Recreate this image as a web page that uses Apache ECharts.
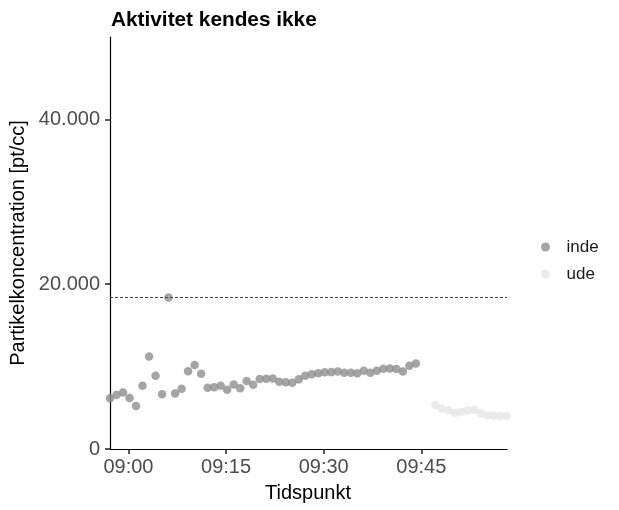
<!DOCTYPE html>
<html>
<head>
<meta charset="utf-8">
<script src="https://cdn.jsdelivr.net/npm/echarts@6/dist/echarts.min.js"></script>
<style>
html, body { margin: 0; padding: 0; background: #fff; }
#chart { width: 619px; height: 510px; }
</style>
</head>
<body>
<div id="chart"></div>
<script>
// målinger inde (tidspunkt + partikler pr. cc)
const indeTimes = [
  '08:57:10', '08:58:10', '08:59:10', '09:00:10', '09:01:10', '09:02:10', '09:03:10', '09:04:10',
  '09:05:10', '09:06:10', '09:07:10', '09:08:10', '09:09:10', '09:10:10', '09:11:10', '09:12:10',
  '09:13:10', '09:14:10', '09:15:10', '09:16:10', '09:17:10', '09:18:10', '09:19:10', '09:20:10',
  '09:21:10', '09:22:10', '09:23:10', '09:24:10', '09:25:10', '09:26:10', '09:27:10', '09:28:10',
  '09:29:10', '09:30:10', '09:31:10', '09:32:10', '09:33:10', '09:34:10', '09:35:10', '09:36:10',
  '09:37:10', '09:38:10', '09:39:10', '09:40:10', '09:41:10', '09:42:10', '09:43:10', '09:44:10'
]
const indeValues = [
  6150, 6550, 6870, 6180, 5210, 7670, 11240, 8890,
  6630, 18400, 6750, 7310, 9450, 10180, 9130, 7430,
  7500, 7670, 7190, 7840, 7360, 8240, 7790, 8490,
  8520, 8570, 8160, 8090, 8040, 8450, 8890, 9060,
  9180, 9300, 9330, 9420, 9250, 9250, 9180, 9490,
  9250, 9490, 9730, 9780, 9700, 9420, 10100, 10390
]
// målinger ude
const udeTimes = [
  '09:47:10', '09:48:10', '09:49:10', '09:50:10', '09:51:10', '09:52:10',
  '09:53:10', '09:54:10', '09:55:10', '09:56:10', '09:57:10', '09:58:10'
]
const udeValues = [5330, 4890, 4710, 4360, 4530, 4670, 4770, 4300, 4080, 4040, 4000, 4000]

const xTicks = ['09:00', '09:15', '09:30', '09:45']
const yTicks = [0, 20000, 40000]
const threshold = 18400
const xStart = '08:57:10'
const xEnd = '09:58:10'

// minutter fra 09:00
function toMin(t) {
  const p = t.split(':').map(Number)
  return (p[0] - 9) * 60 + p[1] + (p[2] || 0) / 60
}
function fmtMin(m) {
  const h = 9 + Math.floor(m / 60)
  const mm = Math.round(m - (h - 9) * 60)
  return String(h).padStart(2, '0') + ':' + String(mm).padStart(2, '0')
}

const chart = echarts.init(document.getElementById('chart'), null, { renderer: 'canvas' })

const font = 'Liberation Sans, Arial, sans-serif'

const option = {
  animation: false,
  textStyle: { fontFamily: font },
  title: {
    text: 'Aktivitet kendes ikke',
    left: 106,
    top: 5,
    textStyle: { fontSize: 20.8, fontWeight: 'bold', color: '#000', fontFamily: font }
  },
  grid: { left: 110, right: 112, top: 37, bottom: 61, containLabel: false },
  legend: {
    orient: 'vertical',
    left: 536,
    top: 233,
    itemWidth: 20,
    itemHeight: 9,
    itemGap: 9,
    icon: 'circle',
    textStyle: { fontSize: 17, color: '#1a1a1a', lineHeight: 18, padding: [0, 0, 0, 6], fontFamily: font },
    data: ['inde', 'ude']
  },
  xAxis: {
    type: 'value',
    min: toMin(xStart),
    max: toMin(xEnd),
    axisLine: { show: true, onZero: false, lineStyle: { color: '#000', width: 1.2 } },
    axisTick: {
      show: true,
      inside: false,
      length: 5,
      lineStyle: { color: '#222', width: 1.5 },
      customValues: xTicks.map(toMin)
    },
    axisLabel: {
      show: true,
      color: '#4d4d4d',
      fontSize: 20,
      margin: 8,
      customValues: xTicks.map(toMin),
      formatter: (v) => fmtMin(v)
    },
    splitLine: { show: false }
  },
  yAxis: {
    type: 'value',
    min: 0,
    max: 50000,
    axisLine: { show: true, onZero: false, lineStyle: { color: '#000', width: 1.2 } },
    axisTick: {
      show: true,
      inside: false,
      length: 5,
      lineStyle: { color: '#222', width: 1.5 },
      customValues: yTicks
    },
    axisLabel: {
      show: true,
      color: '#4d4d4d',
      fontSize: 20,
      margin: 10,
      customValues: yTicks,
      formatter: (v) => (v === 0 ? '0' : v / 1000 + '.000')
    },
    splitLine: { show: false }
  },
  graphic: [
    {
      type: 'text',
      x: 18,
      y: 243,
      rotation: Math.PI / 2,
      style: {
        text: 'Partikelkoncentration [pt/cc]',
        fill: '#000',
        font: '20px ' + font,
        textAlign: 'center',
        textVerticalAlign: 'middle'
      }
    },
    {
      type: 'text',
      x: 308,
      y: 493,
      style: {
        text: 'Tidspunkt',
        fill: '#000',
        font: '20px ' + font,
        textAlign: 'center',
        textVerticalAlign: 'middle'
      }
    }
  ],
  series: [
    {
      name: 'inde',
      type: 'scatter',
      symbolSize: 8.5,
      itemStyle: { color: '#8f8f8f' },
      data: indeTimes.map((t, i) => [toMin(t), indeValues[i]]),
      markLine: {
        silent: true,
        symbol: ['none', 'none'],
        label: { show: false },
        lineStyle: { color: '#444', width: 1, type: [3, 2] },
        data: [{ yAxis: threshold }]
      },
      z: 3
    },
    {
      name: 'ude',
      type: 'scatter',
      symbolSize: 8.5,
      itemStyle: { color: '#e6e6e6' },
      data: udeTimes.map((t, i) => [toMin(t), udeValues[i]]),
      z: 2
    }
  ]
}

chart.setOption(option)
</script>
</body>
</html>
